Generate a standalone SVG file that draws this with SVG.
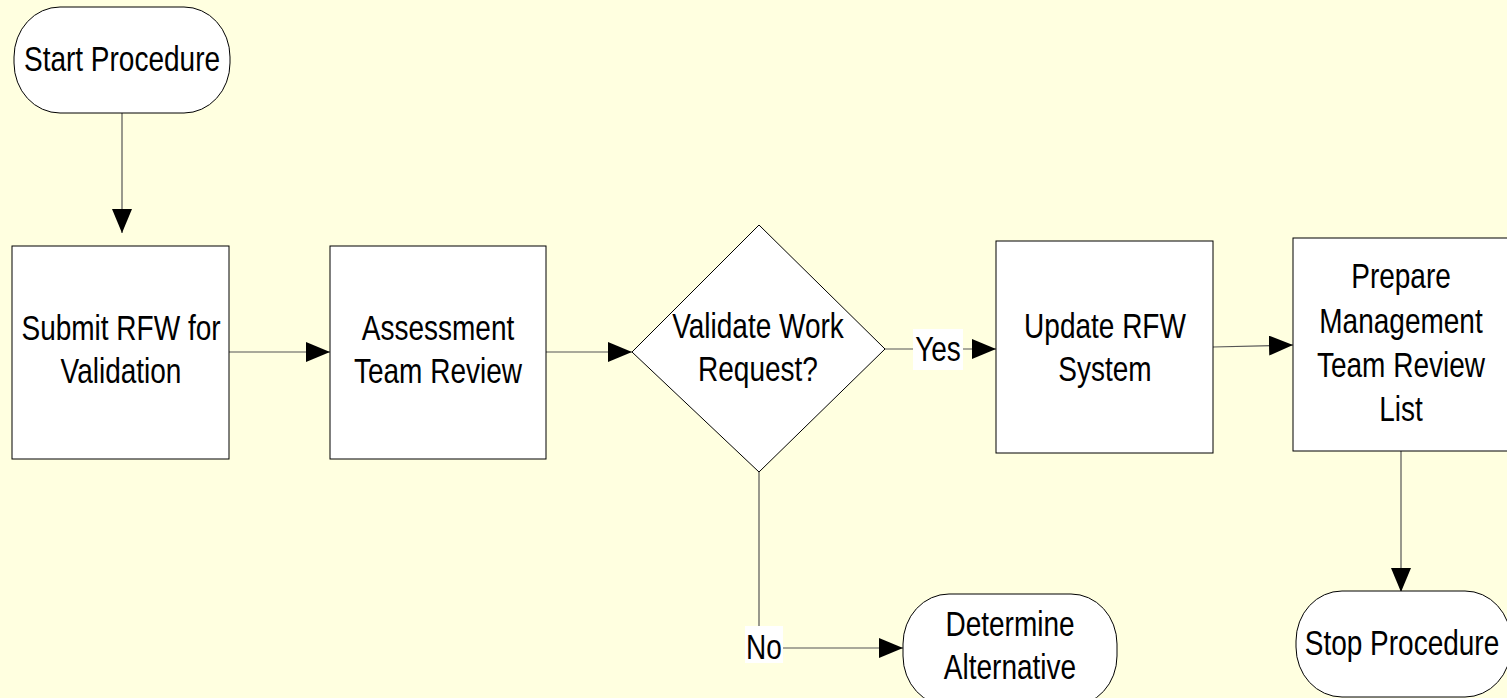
<svg xmlns="http://www.w3.org/2000/svg" width="1507" height="698" viewBox="0 0 1507 698">
  <defs>
    <marker id="arrow" viewBox="0 0 24 20" refX="24" refY="10" markerWidth="24" markerHeight="20" markerUnits="userSpaceOnUse" orient="auto">
      <path d="M0,0 L24,10 L0,20 Z" fill="#000"/>
    </marker>
    <style>
      .shape { fill: #ffffff; stroke: #000; stroke-width: 1; }
      .label { font-family: "Liberation Sans", Arial, sans-serif; font-size: 35px; fill: #000; text-anchor: middle; }
      .edge { fill: none; stroke: #555; stroke-width: 1.2; }
      .tag { fill: #ffffff; }
    </style>
  </defs>
  <rect width="1507" height="698" fill="#ffffe0"/>

  <g id="connectors">
    <path class="edge" d="M122,113 V233" marker-end="url(#arrow)"/>
    <path class="edge" d="M229,352 H330" marker-end="url(#arrow)"/>
    <path class="edge" d="M546,352 H632" marker-end="url(#arrow)"/>
    <path class="edge" d="M885,349 H996" marker-end="url(#arrow)"/>
    <path class="edge" d="M1213,347 L1293,345" marker-end="url(#arrow)"/>
    <path class="edge" d="M1401,451 V592" marker-end="url(#arrow)"/>
    <path class="edge" d="M759,472 V648 H903" marker-end="url(#arrow)"/>
    <rect class="tag" x="913" y="329" width="50" height="41"/>
    <text class="label" transform="translate(938,361) scale(0.8,1)">Yes</text>
    <rect class="tag" x="745" y="626" width="38" height="37"/>
    <text class="label" transform="translate(764,659) scale(0.8,1)">No</text>
  </g>

  <g id="start">
    <rect class="shape" x="14" y="7" width="216" height="106" rx="46" ry="50"/>
    <text class="label" transform="translate(122,71) scale(0.8,1)">Start Procedure</text>
  </g>

  <g id="submit">
    <rect class="shape" x="12" y="246" width="217" height="213"/>
    <text class="label" transform="translate(121,340) scale(0.8,1)">Submit RFW for</text>
    <text class="label" transform="translate(121,383) scale(0.8,1)">Validation</text>
  </g>

  <g id="assessment">
    <rect class="shape" x="330" y="246" width="216" height="213"/>
    <text class="label" transform="translate(438,340) scale(0.8,1)">Assessment</text>
    <text class="label" transform="translate(438,383) scale(0.8,1)">Team Review</text>
  </g>

  <g id="validate">
    <polygon class="shape" points="759,225 885,349 759,472 632,352"/>
    <text class="label" transform="translate(758,338) scale(0.8,1)">Validate Work</text>
    <text class="label" transform="translate(758,381) scale(0.8,1)">Request?</text>
  </g>

  <g id="update">
    <rect class="shape" x="996" y="241" width="217" height="212"/>
    <text class="label" transform="translate(1105,338) scale(0.8,1)">Update RFW</text>
    <text class="label" transform="translate(1105,381) scale(0.8,1)">System</text>
  </g>

  <g id="prepare">
    <rect class="shape" x="1293" y="238" width="220" height="213"/>
    <text class="label" transform="translate(1401,288) scale(0.8,1)">Prepare</text>
    <text class="label" transform="translate(1401,333) scale(0.8,1)">Management</text>
    <text class="label" transform="translate(1401,377) scale(0.8,1)">Team Review</text>
    <text class="label" transform="translate(1401,421) scale(0.8,1)">List</text>
  </g>

  <g id="stop">
    <rect class="shape" x="1296" y="591" width="215" height="106" rx="46" ry="50"/>
    <text class="label" transform="translate(1402,655) scale(0.8,1)">Stop Procedure</text>
  </g>

  <g id="alternative">
    <rect class="shape" x="903" y="594" width="214" height="112" rx="46" ry="50"/>
    <text class="label" transform="translate(1010,636) scale(0.8,1)">Determine</text>
    <text class="label" transform="translate(1010,679) scale(0.8,1)">Alternative</text>
  </g>
</svg>
